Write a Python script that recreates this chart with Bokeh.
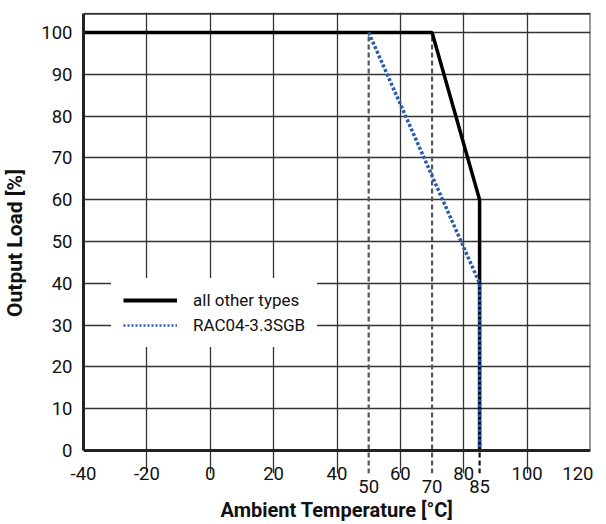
from bokeh.plotting import figure
from bokeh.models import Range1d, FixedTicker, Legend, LegendItem, LinearAxis, Span
from bokeh.embed import file_html
from bokeh.resources import INLINE

# data
x_ticks = [-40, -20, 0, 20, 40, 60, 80, 100, 120]
y_ticks = [0, 10, 20, 30, 40, 50, 60, 70, 80, 90, 100]
marker_temps = [50, 70, 85]
marker_tops = [100, 100, 0]
other_x = [-40, 70, 85, 85]
other_y = [100, 100, 60, 0]
rac_x = [50, 85, 85]
rac_y = [100, 40, 0]
series_names = ["all other types", "RAC04-3.3SGB"]

FONT = "Roboto"
Y_TOP = 104.5
Y_LOW = -5.5

p = figure(output_backend="svg", toolbar_location=None,
           frame_width=507, frame_height=461,
           min_border_left=80, min_border_right=3, min_border_top=12, min_border_bottom=10,
           x_range=Range1d(-40, 120), y_range=Range1d(Y_LOW, Y_TOP + 0.3),
           x_axis_location=None)
p.background_fill_color = "white"
p.border_fill_color = "white"
p.outline_line_color = None


def style_axis(ax, label_size):
    ax.major_tick_in = 0
    ax.major_tick_out = 0
    ax.minor_tick_in = 0
    ax.minor_tick_out = 0
    ax.major_label_text_font = FONT
    ax.major_label_text_font_size = "18.5px"
    ax.major_label_text_color = "#111111"
    ax.axis_label_text_font = FONT
    ax.axis_label_text_font_style = "bold"
    ax.axis_label_text_font_size = label_size
    ax.axis_label_text_color = "#111111"


# y axis
ya = p.yaxis[0]
style_axis(ya, "21px")
ya.ticker = FixedTicker(ticks=y_ticks)
ya.bounds = (0, Y_TOP)
ya.axis_line_color = "#222222"
ya.axis_line_width = 3
ya.major_label_standoff = 11
ya.axis_label = "Output Load [%]"
ya.axis_label_standoff = 11

# main x axis (labels sit level with the dashed extensions)
xa = LinearAxis(ticker=FixedTicker(ticks=x_ticks))
style_axis(xa, "20px")
xa.axis_line_color = None
xa.major_label_standoff = -7
xa.major_label_overrides = {t: str(t) for t in x_ticks}
xa.axis_label = None
p.add_layout(xa, "below")

# secondary x axis for the marked temperatures
xb = LinearAxis(ticker=FixedTicker(ticks=marker_temps))
style_axis(xb, "20px")
xb.axis_line_color = None
xb.major_label_standoff = -3
xb.axis_label = "Ambient Temperature [°C]"
xb.axis_label_standoff = 2
p.add_layout(xb, "below")

p.xgrid.ticker = FixedTicker(ticks=x_ticks)
p.ygrid.ticker = FixedTicker(ticks=y_ticks)
p.xgrid.bounds = (0, Y_TOP)
for g in (p.xgrid[0], p.ygrid[0]):
    g.grid_line_color = "#333333"
    g.grid_line_width = 1.3
    g.grid_line_alpha = 1

# frame: bottom axis line, top and right border
p.add_layout(Span(location=0, dimension="width", line_color="#222222", line_width=3))
p.line([x_ticks[0], x_ticks[-1], x_ticks[-1]], [Y_TOP, Y_TOP, 0],
       line_color="#333333", line_width=2)

# dashed marker lines (extend slightly below the axis)
p.segment(x0=marker_temps, y0=Y_LOW, x1=marker_temps, y1=marker_tops,
          line_color=["#555555", "#555555", "#111111"], line_width=2.2, line_dash="5 3")

r_other = p.line(other_x, other_y, line_color="black", line_width=3.5)
r_rac = p.line(rac_x, rac_y, line_color="#2a5ca8", line_width=3.5, line_dash="3 2")

# legend glyph proxies (thinner dotted line as in the reference legend)
nan = float("nan")
l_other = p.line([nan], [nan], line_color="black", line_width=4)
l_rac = p.line([nan], [nan], line_color="#2a5ca8", line_width=2.4, line_dash="2 2")

legend = Legend(items=[LegendItem(label=series_names[0], renderers=[l_other]),
                       LegendItem(label=series_names[1], renderers=[l_rac])],
                location=(28, 126))
legend.background_fill_color = "white"
legend.background_fill_alpha = 1
legend.border_line_alpha = 0
legend.label_text_font = FONT
legend.label_text_font_size = "17px"
legend.label_text_color = "#111111"
legend.glyph_width = 54
legend.glyph_height = 20
legend.label_standoff = 16
legend.padding = 12
legend.spacing = 5
p.add_layout(legend, "center")

open("out.html", "w").write(file_html(p, INLINE))
